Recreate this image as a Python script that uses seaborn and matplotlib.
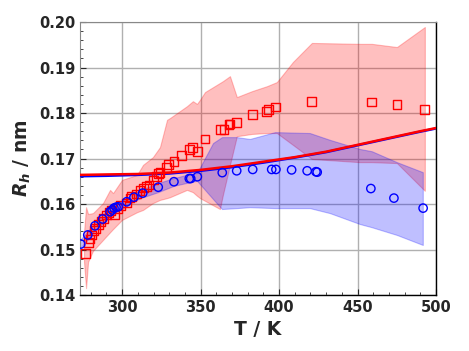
import numpy as np
import matplotlib
matplotlib.use("Agg")
import matplotlib.pyplot as plt
import seaborn as sns
from matplotlib.ticker import MultipleLocator

# red squares
T_red = [276.8, 278.4, 279.5, 280.6, 282.1, 283.1, 284.8, 286.5, 288.2, 290.2, 291.6, 292.9,
         295.0, 297.0, 299.0, 302.9, 305.0, 306.1, 309.3, 311.4, 313.5, 315.6, 317.1, 319.8,
         322.0, 323.0, 324.1, 328.4, 329.4, 333.0, 337.9, 342.8, 344.9, 348.1, 352.8, 362.8,
         364.9, 368.1, 368.7, 373.0, 383.2, 392.1, 393.1, 397.8, 420.7, 459.0, 475.1, 492.9]
Rh_red = [0.1492, 0.1515, 0.1523, 0.1532, 0.1541, 0.1547, 0.1555, 0.1561, 0.1569, 0.1576, 0.1582, 0.1585,
          0.1576, 0.1590, 0.1596, 0.1602, 0.1613, 0.1616, 0.1622, 0.1629, 0.1635, 0.1638, 0.1642, 0.1653,
          0.1660, 0.1667, 0.1669, 0.1681, 0.1686, 0.1694, 0.1706, 0.1719, 0.1725, 0.1716, 0.1743, 0.1763,
          0.1764, 0.1774, 0.1776, 0.1780, 0.1796, 0.1804, 0.1808, 0.1813, 0.1826, 0.1824, 0.1818, 0.1808]

# blue circles
T_blue = [273.6, 278.1, 282.7, 287.6, 292.3, 293.7, 294.8, 296.1, 297.5, 302.9, 307.5, 313.1,
          323.0, 333.0, 342.8, 343.7, 347.9, 363.8, 373.0, 383.2, 395.3, 398.0, 408.0, 417.9,
          423.5, 424.3, 458.5, 473.2, 491.8]
Rh_blue = [0.1512, 0.1532, 0.1552, 0.1567, 0.1583, 0.1587, 0.1591, 0.1593, 0.1594, 0.1605, 0.1615, 0.1624,
           0.1637, 0.1649, 0.1656, 0.1656, 0.1660, 0.1669, 0.1673, 0.1676, 0.1676, 0.1676, 0.1675, 0.1673,
           0.1671, 0.1670, 0.1634, 0.1613, 0.1591]

# fitted curves
T_fit = [273.15, 290, 310, 330, 350, 370, 390, 410, 430, 450, 470, 490, 500]
fit_red = [0.1664, 0.1665, 0.1666, 0.1669, 0.1675, 0.1683, 0.1693, 0.1703, 0.1715, 0.1730, 0.1745, 0.1760, 0.1767]
fit_blue = [0.1661, 0.1662, 0.1664, 0.1667, 0.1673, 0.1681, 0.1691, 0.1702, 0.1714, 0.1729, 0.1744, 0.1759, 0.1766]

# shaded ranges
T_band_red = [275.7, 277.0, 278.3, 281.4, 287.8, 292.3, 294.2, 299.9, 309.5, 313.3, 319.6, 324.1,
              328.6, 330.5, 341.3, 345.1, 347.7, 349.6, 352.8, 362.3, 364.2, 368.7, 373.1, 382.7,
              392.3, 398.6, 408.8, 420.9, 451.5, 459.1, 475.1, 492.9]
lo_red = [0.1473, 0.1415, 0.1473, 0.1497, 0.1521, 0.1538, 0.1545, 0.1565, 0.1582, 0.1587, 0.1602, 0.1609,
          0.1613, 0.1615, 0.1631, 0.1626, 0.1618, 0.1613, 0.1607, 0.1589, 0.1620, 0.1686, 0.1749, 0.1754,
          0.1756, 0.1756, 0.1730, 0.1699, 0.1692, 0.1692, 0.1690, 0.1629]
hi_red = [0.1538, 0.1593, 0.1578, 0.1580, 0.1602, 0.1631, 0.1624, 0.1653, 0.1664, 0.1686, 0.1703, 0.1725,
          0.1785, 0.1789, 0.1815, 0.1826, 0.1820, 0.1829, 0.1846, 0.1866, 0.1870, 0.1881, 0.1835, 0.1848,
          0.1859, 0.1868, 0.1912, 0.1954, 0.1952, 0.1952, 0.1945, 0.1989]

T_band_blue = [273.15, 278.3, 282.7, 287.8, 292.3, 297.4, 303.1, 307.5, 313.3, 322.8, 333.0, 343.2,
               347.7, 357.9, 363.6, 373.1, 381.4, 397.4, 419.6, 432.4, 451.5, 459.1, 475.1, 491.6]
lo_blue = [0.1503, 0.1523, 0.1543, 0.1558, 0.1574, 0.1585, 0.1596, 0.1607, 0.1615, 0.1626, 0.1640, 0.1648,
           0.1651, 0.1611, 0.1589, 0.1591, 0.1593, 0.1591, 0.1591, 0.1580, 0.1556, 0.1549, 0.1532, 0.1510]
hi_blue = [0.1521, 0.1541, 0.1560, 0.1576, 0.1591, 0.1602, 0.1613, 0.1624, 0.1633, 0.1646, 0.1657, 0.1666,
           0.1668, 0.1734, 0.1747, 0.1747, 0.1743, 0.1758, 0.1756, 0.1741, 0.1721, 0.1716, 0.1692, 0.1670]

sns.set_style("white")
plt.rcParams['font.family'] = ['DejaVu Sans']
plt.rcParams['mathtext.fontset'] = 'custom'
plt.rcParams['mathtext.it'] = 'DejaVu Sans:italic:bold'
plt.rcParams['mathtext.rm'] = 'DejaVu Sans:bold'

fig = plt.figure(figsize=(4.69, 3.51), dpi=100)
ax = fig.add_axes([0.1706, 0.1595, 0.759, 0.7778])

ax.fill_between(T_band_red, lo_red, hi_red, color='red', alpha=0.25, lw=0.8, zorder=1)
ax.fill_between(T_band_blue, lo_blue, hi_blue, color='blue', alpha=0.25, lw=0.8, zorder=1)

sns.lineplot(x=T_fit, y=fit_blue, color='blue', lw=1.8, ax=ax, zorder=3)
sns.lineplot(x=T_fit, y=fit_red, color='red', lw=1.8, ax=ax, zorder=3)

sns.scatterplot(x=T_red, y=Rh_red, marker='s', s=40, facecolors='none', edgecolor='red',
                linewidth=1.0, ax=ax, zorder=4)
sns.scatterplot(x=T_blue, y=Rh_blue, marker='o', s=36, facecolors='none', edgecolor='blue',
                linewidth=1.0, ax=ax, zorder=4)

ax.set_xlim(273.15, 500)
ax.set_ylim(0.14, 0.20)
ax.xaxis.set_major_locator(MultipleLocator(50))
ax.xaxis.set_minor_locator(MultipleLocator(10))
ax.yaxis.set_major_locator(MultipleLocator(0.01))
ax.yaxis.set_minor_locator(MultipleLocator(0.002))
ax.yaxis.set_major_formatter(matplotlib.ticker.FormatStrFormatter('%.2f'))
ax.grid(True, which='major', color='#b0b0b0', lw=1.0, zorder=0)
ax.set_axisbelow(True)
ax.tick_params(which='both', direction='in', left=True, bottom=True, top=False, right=False)
ax.tick_params(which='major', length=4, labelsize=10.5)
ax.tick_params(which='minor', length=2.5)
for lab in ax.get_xticklabels() + ax.get_yticklabels():
    lab.set_fontweight('bold')

for side in ['left', 'top']:
    ax.spines[side].set_color('#888888')
    ax.spines[side].set_linewidth(0.8)
for side in ['bottom', 'right']:
    ax.spines[side].set_color('black')
    ax.spines[side].set_linewidth(1.0)

ax.set_xlabel('T / K', fontsize=13.5, fontweight='bold')
ax.set_ylabel(r'$R_h$ / nm', fontsize=13.5, fontweight='bold')

fig.savefig('out.png', dpi=100)
plt.close(fig)
